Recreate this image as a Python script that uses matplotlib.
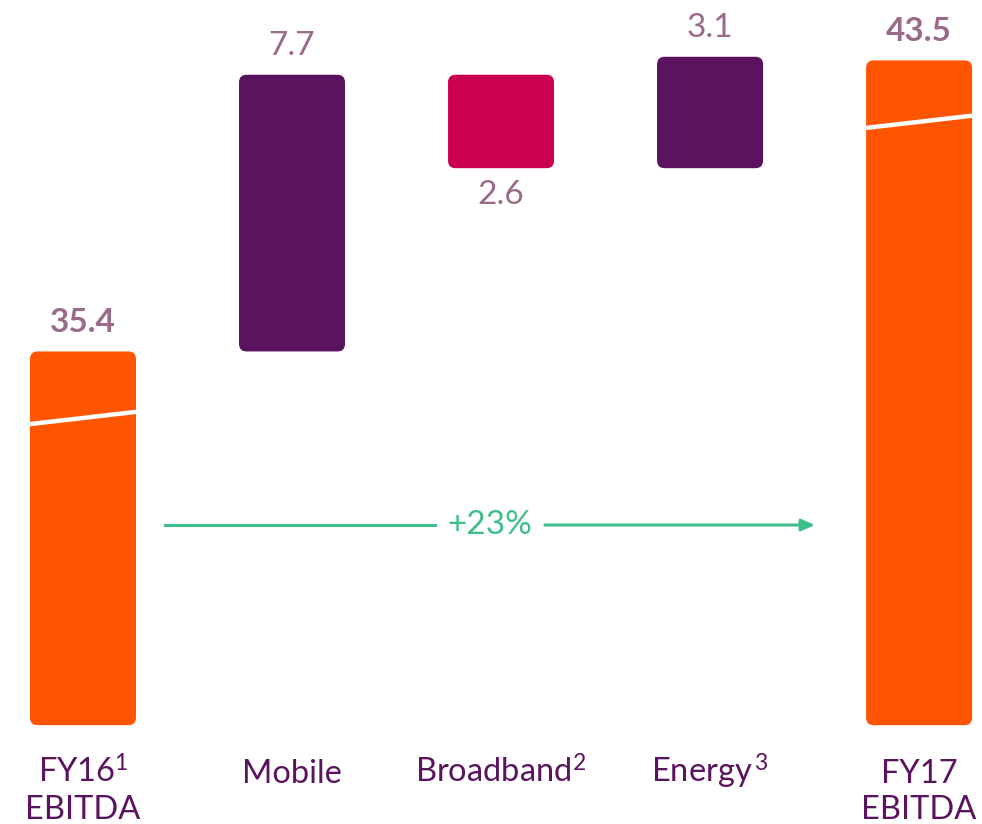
import matplotlib
matplotlib.use("Agg")
import matplotlib.pyplot as plt
from matplotlib.patches import FancyBboxPatch

plt.rcParams['font.family'] = ['Lato', 'DejaVu Sans']
plt.rcParams['mathtext.default'] = 'regular'

# waterfall data (GBP m)
line1 = ["FY16$^{1}$", "Mobile", "Broadband$^{2}$", "Energy$^{\\,3}$", "FY17"]
line2 = ["EBITDA", "", "", "", "EBITDA"]
steps = [35.4, 7.7, -2.6, 3.1, 43.5]
labels = ["35.4", "7.7", "2.6", "3.1", "43.5"]
kinds = ["total", "up", "down", "up", "total"]
growth_label = "+23%"

BASE = 25.0  # axis is broken, bars start here
ORANGE = "#FF5500"
PURPLE = "#5A135E"
PINK = "#CC0050"
MAUVE = "#9A6A88"
GREEN = "#3DBE8B"

fig = plt.figure(figsize=(9.82, 8.24), dpi=100)
ax = fig.add_axes([0, 0, 1, 1])
ax.set_xlim(-0.397, 4.301)
ax.set_ylim(22.25, 45.18)
ax.axis("off")

width = 0.507
# px per data unit, used for rounded corners
aspect = (1 / 36.0) / (1 / 209.0)
break_pos = {0: 0.822, 4: 0.9076}

running = 0.0
for i, (v, lab, k) in enumerate(zip(steps, labels, kinds)):
    if k == "total":
        lo, hi = BASE, v
        col = ORANGE
        running = v
    elif k == "up":
        lo, hi = running, running + v
        col = PURPLE
        running = hi
    else:
        lo, hi = running + v, running
        col = PINK
        running = lo
    box = FancyBboxPatch((i - width / 2, lo), width, hi - lo,
                         boxstyle="round,pad=0,rounding_size=0.036",
                         mutation_aspect=aspect, fc=col, ec="none")
    ax.add_patch(box)

    bold = k == "total"
    if k == "down":
        ax.text(i, lo - 1.0, lab, ha="center", va="baseline", fontsize=24,
                color=MAUVE)
    else:
        ax.text(i, hi + 0.55, lab, ha="center", va="baseline", fontsize=24,
                color=MAUVE, fontweight="bold" if bold else "normal")

    # axis break mark on the total bars
    if k == "total":
        yb = lo + (hi - lo) * break_pos[i]
        ax.plot([i - width / 2, i + width / 2], [yb - 0.17, yb + 0.17],
                color="white", lw=3.2, solid_capstyle="butt")

# category labels
for i, (a, b) in enumerate(zip(line1, line2)):
    ax.text(i, 23.39, a, ha="center", va="baseline", fontsize=23.5, color=PURPLE)
    if b:
        ax.text(i, 22.38, b, ha="center", va="baseline", fontsize=23.5,
                color=PURPLE)

# growth arrow
y_arr = 30.57
ax.plot([0.392, 1.684], [y_arr, y_arr], color=GREEN, lw=2.2)
ax.annotate("", xy=(3.502, y_arr), xytext=(2.21, y_arr),
            arrowprops=dict(arrowstyle="-|>,head_length=0.8,head_width=0.35",
                            color=GREEN, lw=2.2, shrinkA=0, shrinkB=0))
ax.text(1.947, y_arr, growth_label, ha="center", va="center", fontsize=24,
        color=GREEN)

fig.savefig("out.png", dpi=100)
